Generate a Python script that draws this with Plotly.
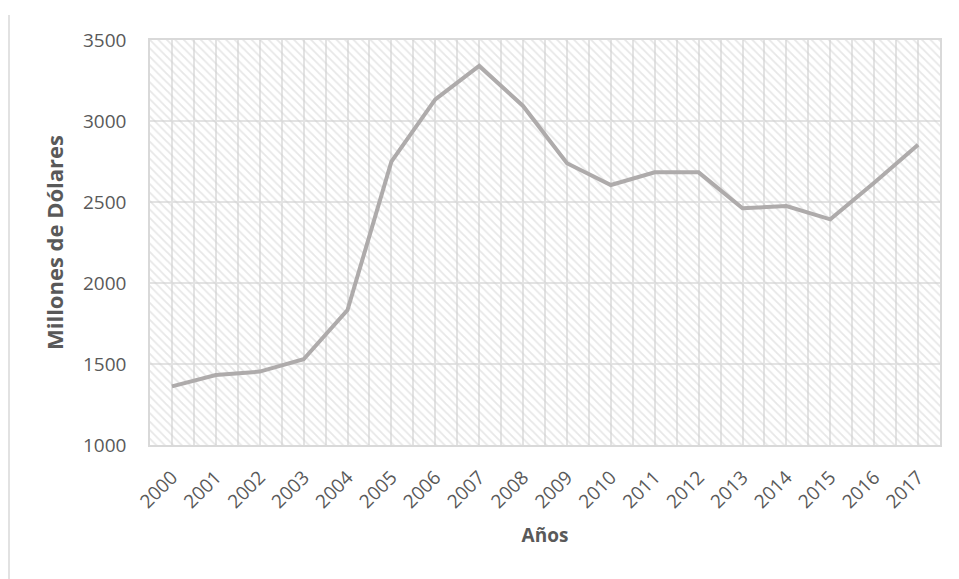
import plotly.graph_objects as go

years = [2000, 2001, 2002, 2003, 2004, 2005, 2006, 2007, 2008,
         2009, 2010, 2011, 2012, 2013, 2014, 2015, 2016, 2017]
values = [1362, 1432, 1453, 1529, 1833, 2749, 3134, 3340, 3093,
          2739, 2605, 2683, 2683, 2461, 2475, 2393, 2619, 2854]
y_min, y_max, y_step = 1000, 3500, 500
x_title = "Años"
y_title = "Millones de Dólares"

TXT = "#595959"
GRID = "#e3e3e3"

# page body has an 8px default margin; size the figure to fill the rest
W, H = 951, 571
ML, MR, MT, MB = 142, 19, 32, 134
PW, PH = W - ML - MR, H - MT - MB

fig = go.Figure()

# hatched plot-area background, one tile per category
fig.add_trace(go.Bar(
    x=years, y=[y_max - y_min] * len(years), base=y_min, width=1,
    marker=dict(color="rgba(0,0,0,0)", line=dict(width=0),
                pattern=dict(shape="\\", fgcolor="#d0d0d0", bgcolor="rgba(0,0,0,0)",
                             size=6, solidity=0.3)),
    hoverinfo="skip", showlegend=False,
))

fig.add_trace(go.Scatter(
    x=years, y=values, mode="lines",
    line=dict(color="#aeabab", width=4),
    showlegend=False,
))

fig.update_layout(
    width=W, height=H,
    margin=dict(l=ML, r=MR, t=MT, b=MB),
    paper_bgcolor="white", plot_bgcolor="white",
    font=dict(family="Open Sans", size=19, color=TXT),
    bargap=0,
    shapes=[dict(type="line", xref="paper", yref="paper",
                 x0=(1 - ML) / PW, x1=(1 - ML) / PW,
                 y0=1 + (MT - 7) / PH, y1=-MB / PH,
                 line=dict(color="#d9d9d9", width=1.5))],
)

fig.update_xaxes(
    range=[years[0] - 0.5, years[-1] + 0.5],
    tickvals=years, ticktext=[str(y) for y in years],
    tickangle=-45,
    ticks="outside", ticklen=12, tickcolor="rgba(0,0,0,0)",
    showgrid=True, gridcolor=GRID, gridwidth=1.5,
    minor=dict(dtick=1, tick0=years[0] - 0.5, showgrid=True, gridcolor=GRID, gridwidth=1.5),
    showline=True, linecolor="#d9d9d9", linewidth=1.5, mirror=True,
    zeroline=False,
    title=dict(text=f"<b>{x_title}</b>", font=dict(size=19, color=TXT), standoff=16),
)
fig.update_yaxes(
    range=[y_min, y_max], dtick=y_step, tick0=y_min,
    ticks="outside", ticklen=18, tickcolor="rgba(0,0,0,0)",
    showgrid=True, gridcolor=GRID, gridwidth=1.5,
    showline=True, linecolor="#d9d9d9", linewidth=1.5, mirror=True,
    zeroline=False,
    title=dict(text=f"<b>{y_title}</b>", font=dict(size=22, color=TXT), standoff=13),
)

fig.write_html("out.html")
